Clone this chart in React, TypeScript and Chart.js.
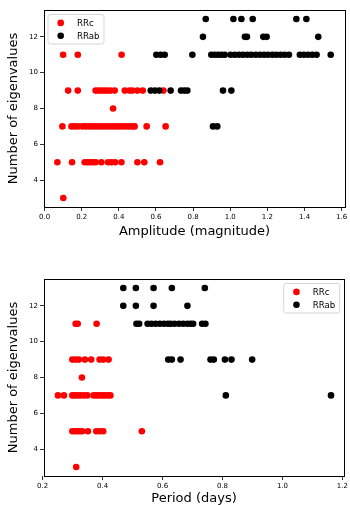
import React, { useEffect, useRef } from "react";
import { Chart, registerables } from "chart.js";

Chart.register(...registerables);

const FONT = "'DejaVu Sans', 'Liberation Sans', sans-serif";

// ---- tick values / labels ----
const amplitudeTicks = [0, 0.2, 0.4, 0.6, 0.8, 1.0, 1.2, 1.4, 1.6];
const amplitudeTickLabels = ["0.0", "0.2", "0.4", "0.6", "0.8", "1.0", "1.2", "1.4", "1.6"];
const periodTicks = [0.2, 0.4, 0.6, 0.8, 1.0, 1.2];
const periodTickLabels = ["0.2", "0.4", "0.6", "0.8", "1.0", "1.2"];
const eigenTicks = [4, 6, 8, 10, 12];
const eigenTickLabels = ["4", "6", "8", "10", "12"];

const seriesNames = ["RRc", "RRab"];
const seriesColors = ["#ff0000", "#000000"];

// ---- top panel: amplitude vs number of eigenvalues ----
const rrcAmplitude = [
  0.100, 0.179, 0.415,
  0.127, 0.179, 0.275, 0.290, 0.306, 0.322, 0.338, 0.356, 0.378, 0.432, 0.457, 0.473, 0.500, 0.529, 0.640,
  0.369,
  0.096, 0.145, 0.162, 0.180, 0.204, 0.222, 0.240, 0.258, 0.275, 0.293, 0.311, 0.329, 0.347, 0.365, 0.383, 0.401, 0.419, 0.437, 0.455, 0.473, 0.485, 0.550, 0.652,
  0.069, 0.148, 0.216, 0.231, 0.245, 0.259, 0.275, 0.306, 0.342, 0.360, 0.380, 0.414, 0.500, 0.537, 0.622,
  0.101,
];
const rrcAmplitudeEigen = [
  11, 11, 11,
  9, 9, 9, 9, 9, 9, 9, 9, 9, 9, 9, 9, 9, 9, 9,
  8,
  7, 7, 7, 7, 7, 7, 7, 7, 7, 7, 7, 7, 7, 7, 7, 7, 7, 7, 7, 7, 7, 7, 7,
  5, 5, 5, 5, 5, 5, 5, 5, 5, 5, 5, 5, 5, 5, 5,
  3,
];
const rrabAmplitude = [
  0.868, 1.017, 1.060, 1.121, 1.356, 1.410,
  0.853, 1.079, 1.090, 1.178, 1.196, 1.474,
  0.602, 0.625, 0.647, 0.796, 0.898, 0.916, 0.934, 0.952, 0.970, 1.002, 1.024, 1.047, 1.069, 1.092, 1.113,
  1.137, 1.160, 1.182, 1.203, 1.227, 1.248, 1.271, 1.293, 1.316, 1.375, 1.397, 1.419, 1.442, 1.465, 1.541,
  0.572, 0.595, 0.618, 0.679, 0.735, 0.753, 0.769, 0.961, 1.006,
  0.907, 0.930,
];
const rrabAmplitudeEigen = [
  13, 13, 13, 13, 13, 13,
  12, 12, 12, 12, 12, 12,
  11, 11, 11, 11, 11, 11, 11, 11, 11, 11, 11, 11, 11, 11, 11,
  11, 11, 11, 11, 11, 11, 11, 11, 11, 11, 11, 11, 11, 11, 11,
  9, 9, 9, 9, 9, 9, 9, 9, 9,
  7, 7,
];

// ---- bottom panel: period vs number of eigenvalues ----
const rrcPeriod = [
  0.310, 0.317, 0.380,
  0.299, 0.310, 0.321, 0.341, 0.362, 0.390, 0.402, 0.420,
  0.331,
  0.251, 0.271, 0.299, 0.307, 0.317, 0.326, 0.337, 0.349, 0.370, 0.379, 0.388, 0.398, 0.407, 0.417, 0.426,
  0.299, 0.307, 0.315, 0.324, 0.332, 0.351, 0.379, 0.390, 0.402, 0.531,
  0.312,
];
const rrcPeriodEigen = [
  11, 11, 11,
  9, 9, 9, 9, 9, 9, 9, 9,
  8,
  7, 7, 7, 7, 7, 7, 7, 7, 7, 7, 7, 7, 7, 7, 7,
  5, 5, 5, 5, 5, 5, 5, 5, 5, 5,
  3,
];
const rrabPeriod = [
  0.469, 0.511, 0.570, 0.631, 0.741,
  0.469, 0.511, 0.570, 0.683,
  0.513, 0.522, 0.550, 0.563, 0.577, 0.591, 0.605, 0.618, 0.627, 0.640, 0.655, 0.669, 0.683, 0.694, 0.702, 0.732, 0.743,
  0.619, 0.631, 0.660, 0.760, 0.771, 0.808, 0.830, 0.899,
  0.811, 1.162,
];
const rrabPeriodEigen = [
  13, 13, 13, 13, 13,
  12, 12, 12, 12,
  11, 11, 11, 11, 11, 11, 11, 11, 11, 11, 11, 11, 11, 11, 11, 11, 11,
  9, 9, 9, 9, 9, 9, 9, 9,
  7, 7,
];

const toPoints = (xs: number[], ys: number[]) => xs.map((x, i) => ({ x, y: ys[i] }));

const framePlugin = {
  id: "frame",
  afterDraw(chart: any) {
    const { ctx, chartArea } = chart;
    ctx.save();
    ctx.strokeStyle = "#000";
    ctx.lineWidth = 1;
    ctx.strokeRect(
      Math.round(chartArea.left) + 0.5,
      Math.round(chartArea.top) + 0.5,
      Math.round(chartArea.right - chartArea.left),
      Math.round(chartArea.bottom - chartArea.top)
    );
    ctx.restore();
  },
};

const legendBoxPlugin = {
  id: "legendBox",
  afterDraw(chart: any, _args: any, opts: any) {
    const { ctx, chartArea } = chart;
    const w = 56;
    const h = 29.5;
    const x = opts.corner === "right" ? chartArea.right - 4.3 - w : chartArea.left + 4;
    const y = chartArea.top + 4.5;
    ctx.save();
    ctx.beginPath();
    const r = 2.5;
    ctx.moveTo(x + r, y);
    ctx.lineTo(x + w - r, y);
    ctx.quadraticCurveTo(x + w, y, x + w, y + r);
    ctx.lineTo(x + w, y + h - r);
    ctx.quadraticCurveTo(x + w, y + h, x + w - r, y + h);
    ctx.lineTo(x + r, y + h);
    ctx.quadraticCurveTo(x, y + h, x, y + h - r);
    ctx.lineTo(x, y + r);
    ctx.quadraticCurveTo(x, y, x + r, y);
    ctx.closePath();
    ctx.fillStyle = "rgba(255,255,255,0.8)";
    ctx.fill();
    ctx.strokeStyle = "#d5d5d5";
    ctx.lineWidth = 1;
    ctx.stroke();
    chart.data.datasets.forEach((ds: any, i: number) => {
      const cy = y + 8.4 + i * 12.9;
      ctx.beginPath();
      ctx.arc(x + 12.7, cy, 3.3, 0, Math.PI * 2);
      ctx.fillStyle = ds.backgroundColor;
      ctx.fill();
      ctx.fillStyle = "#000";
      ctx.font = `8.6px ${FONT}`;
      ctx.textBaseline = "middle";
      ctx.textAlign = "left";
      ctx.fillText(ds.label, x + 29, cy + 0.5);
    });
    ctx.restore();
  },
};

function makeConfig(opts: {
  rrc: { x: number; y: number }[];
  rrab: { x: number; y: number }[];
  xMin: number;
  xMax: number;
  xTicks: number[];
  xLabels: string[];
  xTitle: string;
  padTop: number;
  xHeight: number;
  xTitlePadBottom: number;
  legendCorner: string;
}) {
  const tickFont = { family: FONT, size: 7 };
  const titleFont = { family: FONT, size: 13, lineHeight: 1.2 };
  return {
    type: "scatter" as const,
    data: {
      datasets: [
        {
          label: seriesNames[0],
          data: opts.rrc,
          backgroundColor: seriesColors[0],
          pointBackgroundColor: seriesColors[0],
          pointBorderWidth: 0,
          pointRadius: 3.3,
          order: 2,
        },
        {
          label: seriesNames[1],
          data: opts.rrab,
          backgroundColor: seriesColors[1],
          pointBackgroundColor: seriesColors[1],
          pointBorderWidth: 0,
          pointRadius: 3.3,
          order: 1,
        },
      ],
    },
    options: {
      animation: false,
      responsive: false,
      devicePixelRatio: 1,
      events: [],
      layout: { padding: { top: opts.padTop, right: 5, left: 0, bottom: 0 } },
      plugins: {
        legend: { display: false },
        tooltip: { enabled: false },
        legendBox: { corner: opts.legendCorner },
      },
      scales: {
        x: {
          type: "linear",
          min: opts.xMin,
          max: opts.xMax,
          afterBuildTicks: (s: any) => {
            s.ticks = opts.xTicks.map((v) => ({ value: v }));
          },
          afterFit: (s: any) => {
            s.height = opts.xHeight;
          },
          ticks: {
            autoSkip: false,
            maxRotation: 0,
            padding: 2,
            color: "#000",
            font: tickFont,
            callback: (_v: any, i: number) => opts.xLabels[i],
          },
          grid: {
            drawOnChartArea: false,
            drawTicks: true,
            tickLength: 4,
            color: "#000",
            lineWidth: 0.8,
          },
          border: { display: false },
          title: {
            display: true,
            text: opts.xTitle,
            color: "#000",
            font: titleFont,
            padding: { top: 0, bottom: opts.xTitlePadBottom },
          },
        },
        y: {
          type: "linear",
          min: 2.5,
          max: 13.5,
          afterBuildTicks: (s: any) => {
            s.ticks = eigenTicks.map((v) => ({ value: v }));
          },
          afterFit: (s: any) => {
            s.width = 44;
          },
          ticks: {
            autoSkip: false,
            padding: 2,
            color: "#000",
            font: tickFont,
            callback: (_v: any, i: number) => eigenTickLabels[i],
          },
          grid: {
            drawOnChartArea: false,
            drawTicks: true,
            tickLength: 4,
            color: "#000",
            lineWidth: 0.8,
          },
          border: { display: false },
          title: {
            display: true,
            text: "Number of eigenvalues",
            color: "#000",
            font: titleFont,
            padding: { top: 6, bottom: 0 },
          },
        },
      },
    },
    plugins: [framePlugin, legendBoxPlugin],
  };
}

export default function App() {
  const topRef = useRef<HTMLCanvasElement | null>(null);
  const bottomRef = useRef<HTMLCanvasElement | null>(null);

  useEffect(() => {
    const top = new Chart(
      topRef.current as HTMLCanvasElement,
      makeConfig({
        rrc: toPoints(rrcAmplitude, rrcAmplitudeEigen),
        rrab: toPoints(rrabAmplitude, rrabAmplitudeEigen),
        xMin: -0.003,
        xMax: 1.618,
        xTicks: amplitudeTicks,
        xLabels: amplitudeTickLabels,
        xTitle: "Amplitude (magnitude)",
        padTop: 10,
        xHeight: 45,
        xTitlePadBottom: 13,
        legendCorner: "left",
      }) as any
    );
    const bottom = new Chart(
      bottomRef.current as HTMLCanvasElement,
      makeConfig({
        rrc: toPoints(rrcPeriod, rrcPeriodEigen),
        rrab: toPoints(rrabPeriod, rrabPeriodEigen),
        xMin: 0.2045,
        xMax: 1.2055,
        xTicks: periodTicks,
        xLabels: periodTickLabels,
        xTitle: "Period (days)",
        padTop: 27,
        xHeight: 29,
        xTitlePadBottom: -1,
        legendCorner: "right",
      }) as any
    );
    return () => {
      top.destroy();
      bottom.destroy();
    };
  }, []);

  return (
    <div style={{ position: "absolute", left: 0, top: 0, width: 350, height: 505, background: "#fff" }}>
      <canvas ref={topRef} width={350} height={252} style={{ display: "block" }} />
      <canvas ref={bottomRef} width={350} height={253} style={{ display: "block" }} />
    </div>
  );
}
